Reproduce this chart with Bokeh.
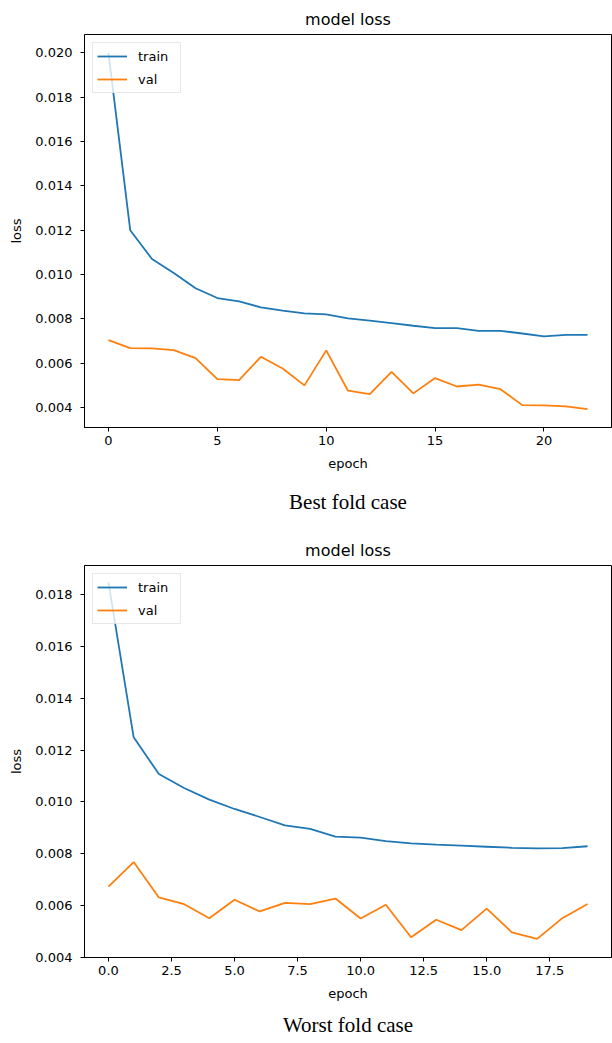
from bokeh.plotting import figure
from bokeh.layouts import column
from bokeh.models import Range1d, FixedTicker, PrintfTickFormatter, Title, Legend, LegendItem
from bokeh.embed import file_html
from bokeh.resources import INLINE

# ---- data: best fold ----
best_epochs = list(range(23))
best_train = [0.0200, 0.0120, 0.0107, 0.01007, 0.00938, 0.00894, 0.00879, 0.00852, 0.00837,
              0.00825, 0.00820, 0.00802, 0.00792, 0.00781, 0.00769, 0.00758, 0.00758, 0.00746,
              0.00746, 0.00734, 0.00721, 0.00728, 0.00728]
best_val = [0.00704, 0.00668, 0.00667, 0.00659, 0.00623, 0.00528, 0.00524, 0.00629, 0.00576,
            0.00500, 0.00658, 0.00476, 0.00461, 0.00561, 0.00464, 0.00533, 0.00495, 0.00503,
            0.00483, 0.00411, 0.00410, 0.00405, 0.00393]

# ---- data: worst fold ----
worst_epochs = list(range(20))
worst_train = [0.01849, 0.01250, 0.01108, 0.01054, 0.01009, 0.00973, 0.00942, 0.00910, 0.00896,
               0.00866, 0.00862, 0.00849, 0.00840, 0.00835, 0.00831, 0.00827, 0.00823, 0.00821,
               0.00822, 0.00829]
worst_val = [0.00673, 0.00768, 0.00631, 0.00605, 0.00551, 0.00622, 0.00577, 0.00610, 0.00605,
             0.00627, 0.00550, 0.00603, 0.00477, 0.00545, 0.00505, 0.00588, 0.00496, 0.00471,
             0.00551, 0.00606]

best_xticks = [0, 5, 10, 15, 20]
best_yticks = [0.004, 0.006, 0.008, 0.010, 0.012, 0.014, 0.016, 0.018, 0.020]
worst_xticks = [0.0, 2.5, 5.0, 7.5, 10.0, 12.5, 15.0, 17.5]
worst_yticks = [0.004, 0.006, 0.008, 0.010, 0.012, 0.014, 0.016, 0.018]

TRAIN_C = "#1f77b4"
VAL_C = "#ff7f0e"
SANS = "DejaVu Sans"


def make_chart(x, train, val, xr, yr, xticks, yticks, xfmt, caption, height, top, bottom, cap_standoff):
    p = figure(width=612, height=height, output_backend="svg", toolbar_location=None,
               x_range=Range1d(*xr), y_range=Range1d(*yr),
               min_border_left=84, min_border_right=1, min_border_top=top, min_border_bottom=bottom)
    p.title.text = "model loss"
    p.title.align = "center"
    p.title.text_font = SANS
    p.title.text_font_size = "16px"
    p.title.text_font_style = "normal"
    p.title.text_color = "black"
    p.title.standoff = 11

    r1 = p.line(x, train, line_color=TRAIN_C, line_width=1.8)
    r2 = p.line(x, val, line_color=VAL_C, line_width=1.8)

    p.xgrid.visible = False
    p.ygrid.visible = False
    p.outline_line_color = "black"
    p.outline_line_width = 1
    p.outline_line_alpha = 1
    p.background_fill_color = "white"
    p.border_fill_color = "white"

    for ax in (p.xaxis[0], p.yaxis[0]):
        ax.axis_line_color = "black"
        ax.major_tick_line_color = "black"
        ax.major_tick_in = 0
        ax.major_tick_out = 4
        ax.minor_tick_line_color = None
        ax.major_label_text_font = SANS
        ax.major_label_text_font_size = "13px"
        ax.major_label_text_color = "black"
        ax.axis_label_text_font = SANS
        ax.axis_label_text_font_size = "13px"
        ax.axis_label_text_font_style = "normal"
        ax.axis_label_text_color = "black"

    p.xaxis.ticker = FixedTicker(ticks=xticks)
    p.yaxis.ticker = FixedTicker(ticks=yticks)
    p.xaxis.formatter = PrintfTickFormatter(format=xfmt)
    p.yaxis.formatter = PrintfTickFormatter(format="%.3f")
    p.xaxis.axis_label = "epoch"
    p.yaxis.axis_label = "loss"
    p.xaxis.major_label_standoff = 4
    p.xaxis.axis_label_standoff = 8
    p.yaxis.major_label_standoff = 8
    p.yaxis.axis_label_standoff = 8

    legend = Legend(items=[LegendItem(label="train", renderers=[r1]),
                           LegendItem(label="val", renderers=[r2])],
                    location="top_left")
    legend.label_text_font = SANS
    legend.label_text_font_size = "13px"
    legend.label_text_color = "black"
    legend.glyph_width = 30
    legend.glyph_height = 18
    legend.label_height = 18
    legend.label_width = 38
    legend.label_standoff = 11
    legend.spacing = 5
    legend.padding = 4
    legend.margin = 8
    legend.border_line_color = "#d0d0d0"
    legend.border_line_width = 1
    legend.background_fill_color = "white"
    legend.background_fill_alpha = 0.8
    p.add_layout(legend)

    cap = Title(text=caption, align="center", text_font="Liberation Serif",
                text_font_size="21px", text_font_style="normal", text_color="black",
                standoff=cap_standoff)
    p.add_layout(cap, "below")
    return p


p1 = make_chart(best_epochs, best_train, best_val, (-1.1, 23.1), (0.0031, 0.02083),
                best_xticks, best_yticks, "%d", "Best fold case", 528, 34, 101, 28)
p2 = make_chart(worst_epochs, worst_train, worst_val, (-0.95, 19.95), (0.00399, 0.01914),
                worst_xticks, worst_yticks, "%.1f", "Worst fold case", 515, 37, 85, 14)

layout = column(p1, p2, spacing=0)
open("out.html", "w").write(file_html(layout, INLINE))
